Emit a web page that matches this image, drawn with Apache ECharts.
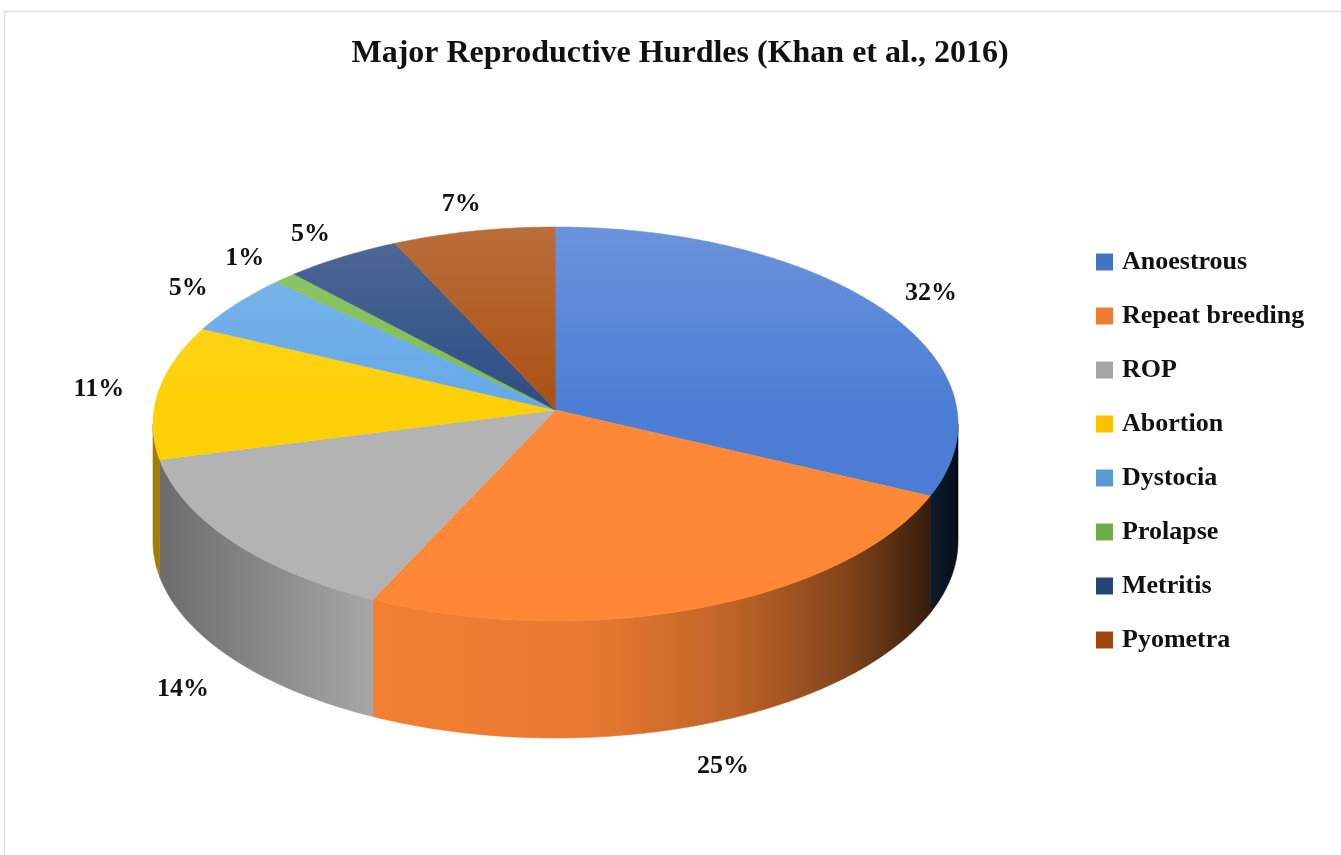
<!DOCTYPE html>
<html>
<head>
<meta charset="utf-8">
<title>Major Reproductive Hurdles</title>
<script src="https://cdn.jsdelivr.net/npm/echarts@6/dist/echarts.min.js"></script>
<style>
html, body { margin: 0; padding: 0; background: #fff; }
#main { width: 1341px; height: 855px; }
</style>
</head>
<body>
<div id="main"></div>
<script>
// data
var categories = ['Anoestrous', 'Repeat breeding', 'ROP', 'Abortion', 'Dystocia', 'Prolapse', 'Metritis', 'Pyometra'];
var percents = [32, 25, 14, 11, 5, 1, 5, 7];
var colors = ['#4472C4', '#ED7D31', '#A5A5A5', '#FFC000', '#5B9BD5', '#70AD47', '#264478', '#9E480E'];

// 3d pie layout (px)
var CX = 555.5, CY = 424, RX = 402.5, RY = 197;
var TILT = -0.071;   // perspective: centre of the disc sits a bit behind the ellipse centre
var DEPTH = 117;
var FONT = '"Liberation Serif", "Times New Roman", serif';

var total = percents.reduce(function (a, b) { return a + b; }, 0);
var starts = [];
var acc = 0;
percents.forEach(function (v) { starts.push(acc); acc += v; });

// angle in degrees, clockwise from the back of the disc
function proj(deg, dy) {
    var t = deg * Math.PI / 180;
    var x = Math.sin(t), y = -Math.cos(t);
    var d = 1 + TILT * y;
    return [CX + RX * x * Math.sqrt(1 - TILT * TILT) / d, CY + RY * (y + TILT) / d + (dy || 0)];
}

function rgb(hex) {
    var n = parseInt(hex.slice(1), 16);
    return [(n >> 16) & 255, (n >> 8) & 255, n & 255];
}
function shade(hex, k) {
    var c = rgb(hex).map(function (v) { return Math.max(0, Math.min(255, Math.round(v * k))); });
    return 'rgb(' + c.join(',') + ')';
}
function lighten(hex, t) {
    var c = rgb(hex).map(function (v) { return Math.round(Math.min(255, v * 1.08) + (255 - Math.min(255, v * 1.08)) * t); });
    return 'rgb(' + c.join(',') + ')';
}

function sideFill(hex) {
    var st = [[0, 0.64], [0.28, 1.02], [0.55, 0.97], [0.72, 0.8], [0.86, 0.55], [0.95, 0.28], [1, 0.12]];
    return new echarts.graphic.LinearGradient(CX - RX, 0, CX + RX, 0, st.map(function (s) {
        return { offset: s[0], color: shade(hex, s[1]) };
    }), true);
}
function topFill(hex) {
    return new echarts.graphic.LinearGradient(0, CY - RY, 0, CY + RY, [
        { offset: 0, color: lighten(hex, 0.18) },
        { offset: 0.45, color: lighten(hex, 0.02) },
        { offset: 1, color: lighten(hex, 0) }
    ], true);
}

function renderSlice(params, api) {
    var i = params.dataIndex;
    var a0 = starts[i] / total * 360, a1 = (starts[i] + percents[i]) / total * 360;
    var children = [];
    var step = 0.5;

    // visible part of the outer wall
    var v0 = Math.acos(TILT) * 180 / Math.PI;
    var s0 = Math.max(a0, v0), s1 = Math.min(a1, 360 - v0);
    if (s1 > s0) {
        var wall = [];
        for (var a = s0; a < s1; a += step) wall.push(proj(a));
        wall.push(proj(s1));
        for (var b = s1; b > s0; b -= step) wall.push(proj(b, DEPTH));
        wall.push(proj(s0, DEPTH));
        var sf = sideFill(colors[i]);
        children.push({ type: 'polygon', shape: { points: wall }, style: { fill: sf, stroke: sf, lineWidth: 0.6 } });
    }

    // top face
    var apex = [CX, CY + RY * TILT];
    var top = [apex];
    for (var c = a0; c < a1; c += step) top.push(proj(c));
    top.push(proj(a1));
    var tf = topFill(colors[i]);
    children.push({ type: 'polygon', shape: { points: top }, style: { fill: tf, stroke: tf, lineWidth: 0.6 } });

    // percent label
    var mid = (a0 + a1) / 2;
    var p = proj(mid);
    var lx = apex[0] + (p[0] - apex[0]) * 1.15;
    var ly = apex[1] + (p[1] - apex[1]) * 1.15;
    if (-Math.cos(mid * Math.PI / 180) > 0.2) ly += DEPTH + 12;
    children.push({
        type: 'text', x: lx, y: ly, z2: 10,
        style: {
            text: Math.round(percents[i] / total * 100) + '%',
            align: 'center', verticalAlign: 'middle',
            fontFamily: FONT, fontWeight: 'bold', fontSize: 26, fill: '#111'
        }
    });
    return { type: 'group', children: children };
}

var chart = echarts.init(document.getElementById('main'), null, { renderer: 'canvas' });
var option = {
    animation: false,
    backgroundColor: '#fff',
    title: {
        text: 'Major Reproductive Hurdles (Khan et al., 2016)',
        left: 675, top: 33, textAlign: 'center',
        textStyle: { fontFamily: FONT, fontWeight: 'bold', fontSize: 32, color: '#111' }
    },
    legend: {
        orient: 'vertical',
        left: 1096, top: 249,
        padding: 0,
        itemWidth: 17, itemHeight: 17, itemGap: 28,
        icon: 'rect',
        textStyle: { fontFamily: FONT, fontWeight: 'bold', fontSize: 26, lineHeight: 26, color: '#111', padding: [0, 0, 0, 4] },
        data: categories
    },
    graphic: [{
        type: 'rect', silent: true,
        shape: { x: 4.5, y: 11.5, width: 1400, height: 900 },
        style: { fill: 'none', stroke: '#dde1e6', lineWidth: 1.5 }
    }],
    series: [{
        type: 'custom',
        coordinateSystem: 'none',
        silent: true,
        data: percents,
        renderItem: renderSlice
    }, {
        // only feeds the legend
        type: 'pie',
        silent: true,
        center: [-200, -200],
        radius: [0, 1],
        label: { show: false },
        labelLine: { show: false },
        data: categories.map(function (n, i) {
            return { name: n, value: percents[i], itemStyle: { color: colors[i] } };
        })
    }]
};
chart.setOption(option);
</script>
</body>
</html>
